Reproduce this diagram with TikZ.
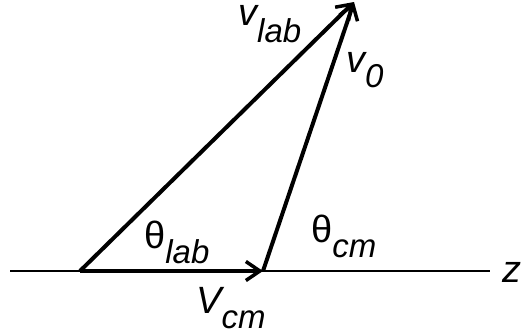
\documentclass[tikz,border=0pt]{standalone}
\usepackage{fontspec}
\setmainfont{Liberation Sans}
\usetikzlibrary{arrows.meta}
\newcommand\mainsz{\fontsize{38}{40}\selectfont}
\newcommand\subsz{\fontsize{33}{35}\selectfont\itshape}
\begin{document}
\begin{tikzpicture}[x=1pt,y=-1pt,
  vec/.style={line width=4pt,-{Straight Barb[length=14pt,width=19pt,line width=3.5pt]}},
  axis/.style={line width=2pt},
  lbl/.style={inner sep=0pt,anchor=base west,font=\mainsz}]
\useasboundingbox (0,0) rectangle (527,335);
\coordinate (L) at (10,271);
\coordinate (R) at (490,271);
\coordinate (O) at (80,271);
\coordinate (C) at (263,271);
\coordinate (T) at (354,2);
\draw[axis] (L) -- (R);
\draw[vec] (O) -- (C);
\draw[vec] (O) -- (T);
\draw[vec] (C) -- (T);
\node[lbl] (vlab) at (238,25) {\itshape v\raisebox{-17pt}{\subsz lab}};
\node[lbl] (vzero) at (346,72) {\itshape v\raisebox{-15pt}{\subsz 0}};
\node[lbl] (thlab) at (144,248) {θ\raisebox{-15pt}{\subsz lab}};
\node[lbl] (thcm) at (311,242) {θ\raisebox{-15pt}{\subsz cm}};
\node[lbl] (Vcm) at (196,313) {\itshape V\raisebox{-15pt}{\subsz cm}};
\node[lbl] (Z) at (502,282) {\itshape z};
\end{tikzpicture}
\end{document}
